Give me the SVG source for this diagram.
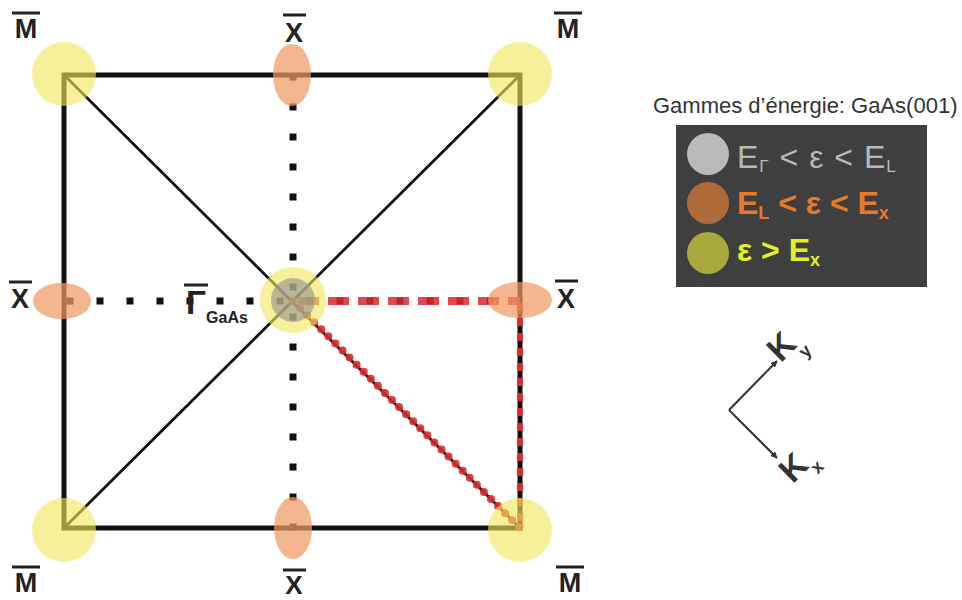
<svg xmlns="http://www.w3.org/2000/svg" width="962" height="600" viewBox="0 0 962 600">
<defs>
<style>
.lbl{font-family:"Liberation Sans",Arial,sans-serif;font-weight:bold;fill:#222;text-anchor:middle}
.bar{stroke:#222;stroke-width:3}
.yel{fill:#efe65a;opacity:0.62}
.org{fill:#ee9a62;opacity:0.72}
.leg{font-family:"Liberation Sans",Arial,sans-serif;font-size:32px}
.kl{font-family:"Liberation Sans",Arial,sans-serif;font-weight:bold;fill:#333;text-anchor:middle;dominant-baseline:central}
</style>
<marker id="ah" viewBox="0 0 10 10" refX="9" refY="5" markerWidth="7" markerHeight="7" orient="auto" markerUnits="userSpaceOnUse">
<path d="M0,0 L10,5 L0,10 z" fill="#333"/>
</marker>
</defs>
<rect width="962" height="600" fill="#fff"/>

<g id="connectors">
<rect x="64" y="75" width="456" height="453" fill="none" stroke="#111" stroke-width="5"/>
<line x1="64" y1="75" x2="520" y2="528" stroke="#111" stroke-width="2.8"/>
<line x1="520" y1="75" x2="64" y2="528" stroke="#111" stroke-width="2.8"/>
<line x1="293" y1="73.5" x2="293" y2="531" stroke="#111" stroke-width="7" stroke-dasharray="7 23"/>
<line x1="66.5" y1="301" x2="520" y2="301" stroke="#111" stroke-width="7" stroke-dasharray="7 23"/>
<line x1="297" y1="301" x2="520" y2="301" stroke="#e0282c" stroke-width="8" stroke-dasharray="21 9" stroke-dashoffset="-1" opacity="0.85"/>
<line x1="520" y1="303" x2="520" y2="528" stroke="#e0282c" stroke-width="5.5" stroke-dasharray="8 7"/>
<line x1="293" y1="301" x2="520" y2="528" stroke="#e0282c" stroke-width="8" stroke-linecap="round" stroke-dasharray="0 10" opacity="0.9"/>
</g>

<g id="M-tl"><circle class="yel" cx="64" cy="74" r="32"/><line class="bar" x1="12" y1="13" x2="40" y2="13"/><text class="lbl" x="26" y="38" font-size="27">M</text></g>
<g id="M-tr"><circle class="yel" cx="520" cy="74" r="32"/><line class="bar" x1="554" y1="13" x2="582" y2="13"/><text class="lbl" x="568" y="38" font-size="27">M</text></g>
<g id="M-bl"><circle class="yel" cx="64" cy="530" r="32"/><line class="bar" x1="12" y1="567" x2="40" y2="567"/><text class="lbl" x="26" y="592" font-size="27">M</text></g>
<g id="M-br"><circle class="yel" cx="520" cy="530" r="32"/><line class="bar" x1="556" y1="567" x2="584" y2="567"/><text class="lbl" x="570" y="592" font-size="27">M</text></g>

<g id="X-top"><ellipse class="org" cx="292" cy="75" rx="19" ry="31"/><line class="bar" x1="283" y1="15" x2="306" y2="15"/><text class="lbl" x="294" y="42" font-size="27">X</text></g>
<g id="X-bottom"><ellipse class="org" cx="293" cy="528" rx="19" ry="31"/><line class="bar" x1="283" y1="570" x2="306" y2="570"/><text class="lbl" x="294" y="594" font-size="26">X</text></g>
<g id="X-left"><ellipse class="org" cx="62" cy="301" rx="29" ry="18"/><line class="bar" x1="9" y1="282" x2="32" y2="282"/><text class="lbl" x="20" y="308" font-size="27">X</text></g>
<g id="X-right"><ellipse class="org" cx="520" cy="300" rx="32" ry="18"/><line class="bar" x1="555" y1="281" x2="578" y2="281"/><text class="lbl" x="566" y="308" font-size="27">X</text></g>

<g id="Gamma">
<circle class="yel" cx="293" cy="300" r="33"/>
<circle cx="293" cy="300" r="22" fill="#8f8f8f" opacity="0.6"/>
<line class="bar" x1="184" y1="285" x2="208" y2="285"/>
<text class="lbl" x="196" y="314" font-size="33">Γ</text>
<text class="lbl" x="227" y="323" font-size="16">GaAs</text>
</g>

<g id="legend">
<text x="653" y="113" font-family="Liberation Sans, Arial, sans-serif" font-size="22" fill="#333">Gammes d’énergie: GaAs(001)</text>
<rect x="676" y="125" width="251" height="162" fill="#3f3f3f"/>
<circle cx="708" cy="154" r="21" fill="#b9b9b9"/>
<circle cx="708" cy="203" r="21" fill="#b06a3a"/>
<circle cx="708" cy="253" r="21" fill="#a9a83c"/>
<text class="leg" x="737" y="168" fill="#b8b8b8" letter-spacing="1">E<tspan font-size="17" dy="4">Γ</tspan><tspan dy="-4"> &lt; ε &lt; E</tspan><tspan font-size="17" dy="4">L</tspan></text>
<text class="leg" x="737" y="214" fill="#e8782a" font-weight="bold">E<tspan font-size="18" dy="5">L</tspan><tspan dy="-5"> &lt; ε &lt; E</tspan><tspan font-size="18" dy="5">x</tspan></text>
<text class="leg" x="737" y="261" fill="#e4ef2a" font-weight="bold">ε &gt; E<tspan font-size="18" dy="5">x</tspan></text>
</g>

<g id="k-axes">
<line x1="729" y1="410" x2="777" y2="361" stroke="#333" stroke-width="2" marker-end="url(#ah)"/>
<line x1="729" y1="410" x2="777" y2="458" stroke="#333" stroke-width="2" marker-end="url(#ah)"/>
<text class="kl" font-size="34" transform="translate(781,346) rotate(-45)">K</text>
<text class="kl" font-size="18" transform="translate(805,351) rotate(-45)">y</text>
<text class="kl" font-size="34" transform="translate(793,467) rotate(-45)">K</text>
<text class="kl" font-size="18" transform="translate(817,467) rotate(-45)">x</text>
</g>
</svg>
